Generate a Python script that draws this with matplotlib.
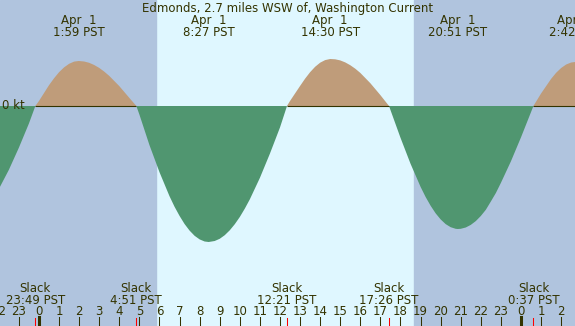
import numpy as np
import matplotlib
matplotlib.use("Agg")
import matplotlib.pyplot as plt

# tidal current, knots (hours from midnight Apr 1, PST)
hours = [-2.0, -1.5, -1.0, -0.5, -0.18,
         0.0, 0.5, 0.75, 1.0, 1.25, 1.5, 1.75, 1.98, 2.25, 2.5, 2.75, 3.0, 3.25, 3.5, 4.0, 4.5, 4.85,
         5.0, 5.5, 6.0, 6.5, 6.75, 7.0, 7.25, 7.5, 7.75, 8.0, 8.25, 8.45, 8.75, 9.0, 9.25, 9.5, 9.75,
         10.0, 10.25, 10.5, 11.0, 11.5, 12.0, 12.35,
         12.5, 13.0, 13.25, 13.5, 13.75, 14.0, 14.25, 14.5, 14.75, 15.0, 15.25, 15.5, 15.75, 16.0, 16.5, 17.0, 17.43,
         17.5, 18.0, 18.5, 19.0, 19.25, 19.5, 19.75, 20.0, 20.25, 20.5, 20.75, 20.85, 21.0, 21.25, 21.5, 21.75,
         22.0, 22.25, 22.5, 22.75, 23.0, 23.5, 24.0, 24.5, 24.62,
         25.0, 25.5, 25.75, 26.0, 26.25, 26.5, 26.7, 27.0]
knots = [-0.831, -0.639, -0.417, -0.175, 0.0,
         0.050, 0.208, 0.277, 0.338, 0.386, 0.422, 0.444, 0.450, 0.445, 0.432, 0.410, 0.381, 0.344, 0.301, 0.199, 0.081, 0.0,
         -0.085, -0.390, -0.661, -0.902, -1.007, -1.099, -1.180, -1.246, -1.298, -1.334, -1.355, -1.360, -1.350, -1.328, -1.292, -1.243, -1.182,
         -1.110, -1.026, -0.933, -0.719, -0.476, -0.215, 0.0,
         0.050, 0.200, 0.273, 0.338, 0.392, 0.433, 0.459, 0.470, 0.467, 0.456, 0.436, 0.408, 0.373, 0.331, 0.228, 0.109, 0.0,
         -0.039, -0.317, -0.577, -0.808, -0.909, -0.997, -1.073, -1.134, -1.181, -1.212, -1.228, -1.230, -1.228, -1.215, -1.189, -1.151,
         -1.100, -1.038, -0.955, -0.870, -0.769, -0.553, -0.314, -0.061, 0.0,
         0.125, 0.271, 0.332, 0.380, 0.415, 0.435, 0.440, 0.435]

# max current events (top labels)
max_hours = [1.98, 8.45, 14.50, 20.85, 26.70]
max_labels = ["1:59 PST", "8:27 PST", "14:30 PST", "20:51 PST", "2:42 PST"]
# slack events (bottom labels)
slack_hours = [-0.18, 4.85, 12.35, 17.43, 24.62]
slack_labels = ["23:49 PST", "4:51 PST", "12:21 PST", "17:26 PST", "0:37 PST"]

sunrise = 5.83
sunset = 18.67
tick_hours = list(range(-2, 27))
midnights = [0, 24]

title = "Edmonds, 2.7 miles WSW of, Washington Current"

night_color = "#b0c4de"
day_color = "#dff7ff"
flood_color = "#bf9c7a"
ebb_color = "#509670"
text_color = "#333300"

fig = plt.figure(figsize=(5.75, 3.26), dpi=100)
ax = fig.add_axes([0, 0, 1, 1])
ax.set_xlim(-1.94, 26.69)
ax.set_ylim(-2.20, 1.06)
ax.axis("off")

ax.axvspan(-1.94, 26.69, color=day_color, zorder=0)
ax.axvspan(-1.94, sunrise, color=night_color, zorder=0)
ax.axvspan(sunset, 26.69, color=night_color, zorder=0)

t = np.array(hours)
v = np.array(knots)
ax.fill_between(t, 0, v, where=v >= 0, color=flood_color, lw=0, interpolate=True, zorder=1)
ax.fill_between(t, 0, v, where=v <= 0, color=ebb_color, lw=0, interpolate=True, zorder=1)
ax.plot(t, np.where(v >= 0, 0, np.nan), color=text_color, lw=0.8, zorder=2, solid_capstyle="butt")

fs = 8.5
ax.annotate("0 kt", xy=(0, 0), xycoords=("axes fraction", "data"), xytext=(2, 0),
            textcoords="offset pixels", ha="left", va="center", fontsize=fs, color=text_color)

ax.annotate(title, xy=(0.5, 1), xycoords="axes fraction", xytext=(0, -12),
            textcoords="offset pixels", ha="center", va="baseline", fontsize=fs, color=text_color)

for h, lab in zip(max_hours, max_labels):
    ax.annotate("Apr  1", xy=(h, 1), xycoords=("data", "axes fraction"), xytext=(0, -24),
                textcoords="offset pixels", ha="center", va="baseline", fontsize=fs, color=text_color)
    ax.annotate(lab, xy=(h, 1), xycoords=("data", "axes fraction"), xytext=(0, -36),
                textcoords="offset pixels", ha="center", va="baseline", fontsize=fs, color=text_color)

for h, lab in zip(slack_hours, slack_labels):
    ax.annotate("Slack", xy=(h, 0), xycoords=("data", "axes fraction"), xytext=(0, 34),
                textcoords="offset pixels", ha="center", va="baseline", fontsize=fs, color=text_color)
    ax.annotate(lab, xy=(h, 0), xycoords=("data", "axes fraction"), xytext=(0, 22),
                textcoords="offset pixels", ha="center", va="baseline", fontsize=fs, color=text_color)

for h in tick_hours:
    ax.annotate(str(h % 24), xy=(h, 0), xycoords=("data", "axes fraction"), xytext=(0, 11),
                textcoords="offset pixels", ha="center", va="baseline", fontsize=fs, color=text_color)
    ax.axvline(h, ymin=0, ymax=9.5 / 326, color=text_color, lw=0.75, zorder=3)

for h in midnights:
    ax.axvline(h, ymin=0, ymax=9 / 326, color=text_color, lw=2.2, zorder=3)

for h in slack_hours:
    ax.axvline(h, ymin=0, ymax=8 / 326, color="red", lw=0.75, zorder=4)

fig.savefig("out.png", dpi=100)
